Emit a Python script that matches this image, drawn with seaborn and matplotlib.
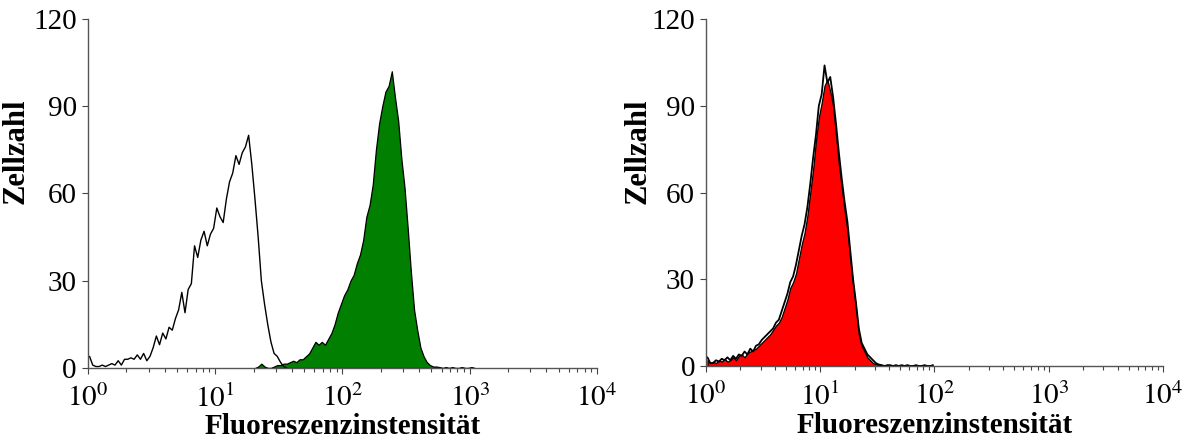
import numpy as np
import seaborn as sns
import matplotlib
matplotlib.use('Agg')
import matplotlib.pyplot as plt

# channel width in decades, all histograms share it
step = 0.025

# left panel: unstained control (open) and stained sample (green)
open_start = 0.0
open_vals = [4, 1, 0.5, 0.5, 1, 0.5, 1, 1.5, 1, 2.5,
             1, 3, 3, 3.5, 3, 4.5, 3, 5, 2.5, 4,
             7, 11, 8, 12, 10, 14, 13, 17, 20, 26,
             19, 27, 29, 42, 38, 44, 47, 42, 46, 48,
             55, 52, 50, 58, 64, 67, 73, 70, 74, 76,
             80, 70, 58, 45, 30, 22, 15, 9, 5, 4,
             2, 0.5, 0]

green_start = 1.3
green_vals = [0, 0.5, 1.5, 0.5, 0, 0, 0.5, 1, 1, 1.5,
              1.5, 2, 2.5, 2, 3, 3, 4, 5, 7, 9,
              8, 9, 8, 10, 12, 15, 19, 22, 25, 27,
              30, 32, 36, 39, 44, 52, 56, 63, 75, 84,
              90, 95, 97, 102, 93, 85, 72, 62, 48, 33,
              20, 13, 7, 4, 2, 1, 0.5, 0.5, 0.3, 0,
              0.3, 0, 0.3, 0, 0, 0.3, 0, 0, 0.3, 0]

# right panel: red filled sample plus black overlay sample
red_start = 0.0
red_vals = [2, 1, 1.5, 1, 2, 1.5, 2.5, 1.5, 2, 3,
            2, 3.5, 4, 3, 4.5, 5, 5.5, 6, 7, 8,
            9, 10, 11, 12.5, 14, 15, 17, 20, 23, 27,
            29, 32, 37, 42, 46, 52, 60, 68, 78, 86,
            91, 97, 99, 95, 90, 80, 70, 62, 54, 47,
            37, 28, 20, 11, 7, 5, 3, 2, 1, 0.7,
            0.5, 0.3, 0.3, 0, 0.3, 0.3, 0, 0.3, 0, 0.3,
            0, 0, 0.3, 0, 0.3, 0, 0, 0, 0.3, 0]

over_vals = [3, 1, 1, 2, 1.5, 2.5, 2, 3, 2, 3.5,
             2.5, 4, 3.5, 5, 4, 6, 5, 7, 7.5, 9,
             10, 11, 12, 13, 15, 16, 19, 22, 25, 29,
             31, 35, 40, 45, 49, 55, 63, 72, 80, 90,
             94, 104, 98, 100, 93, 84, 74, 65, 57, 50,
             40, 30, 22, 13, 8, 6, 4, 3, 2, 1,
             0.5, 0.3, 0, 0.3, 0.3, 0, 0.3, 0, 0.3, 0,
             0.3, 0, 0, 0.3, 0, 0, 0.3, 0, 0, 0.3]

yticks = [0, 30, 60, 90, 120]
decades = [0, 1, 2, 3, 4]
xlabel = 'Fluoreszenzinstensität'
ylabel = 'Zellzahl'


def hist(ax, start, vals, **kw):
    n = len(vals)
    centers = start + step * (np.arange(n) + 0.5)
    sns.histplot(x=list(centers), weights=list(vals), binwidth=step,
                 binrange=(start, start + n * step), element='poly', ax=ax, **kw)


sns.set_style('ticks')
plt.rcParams['font.family'] = ['Liberation Serif', 'DejaVu Serif']
plt.rcParams['mathtext.fontset'] = 'stix'

fig = plt.figure(figsize=(11.95, 4.43), dpi=100)
ax1 = fig.add_axes([0.0736, 0.1693, 0.426, 0.788])
ax2 = fig.add_axes([0.5908, 0.1738, 0.3824, 0.783])

hist(ax1, green_start, green_vals, fill=True, color='#007f00', alpha=1,
     edgecolor='black', linewidth=0.9)
hist(ax1, open_start, open_vals, fill=False, color='black', linewidth=1.0)

hist(ax2, red_start, red_vals, fill=True, color='#fe0000', alpha=1,
     edgecolor='black', linewidth=0.9)
hist(ax2, red_start, over_vals, fill=False, color='black', linewidth=1.3)

minor = [d + np.log10(k) for d in decades[:-1] for k in range(2, 10)]
for ax in (ax1, ax2):
    ax.set_xlim(0, 4)
    ax.set_ylim(0, 120)
    ax.set_yticks(yticks)
    ax.set_yticklabels([str(t) for t in yticks])
    ax.set_xticks(decades)
    ax.set_xticklabels(['$10^{%d}$' % d for d in decades])
    ax.set_xticks(minor, minor=True)
    ax.tick_params(axis='both', labelsize=21, length=4, width=0.8, color='#444444',
                   labelcolor='black', pad=4)
    ax.tick_params(axis='x', which='major', pad=8)
    ax.tick_params(axis='x', which='minor', length=3, width=0.8, color='#444444')
    for s in ['top', 'right']:
        ax.spines[s].set_visible(False)
    for s in ['left', 'bottom']:
        ax.spines[s].set_color('#555555')
        ax.spines[s].set_linewidth(1)
    ax.set_xlabel(xlabel, fontsize=21, fontweight='bold', color='black')
    ax.set_ylabel(ylabel, fontsize=22, fontweight='bold', color='black')

ax1.xaxis.set_label_coords(0.5, -0.128)
ax2.xaxis.set_label_coords(0.5, -0.134)
ax1.yaxis.set_label_coords(-0.112, 0.62)
ax2.yaxis.set_label_coords(-0.118, 0.62)

fig.savefig('out.png', dpi=100)
